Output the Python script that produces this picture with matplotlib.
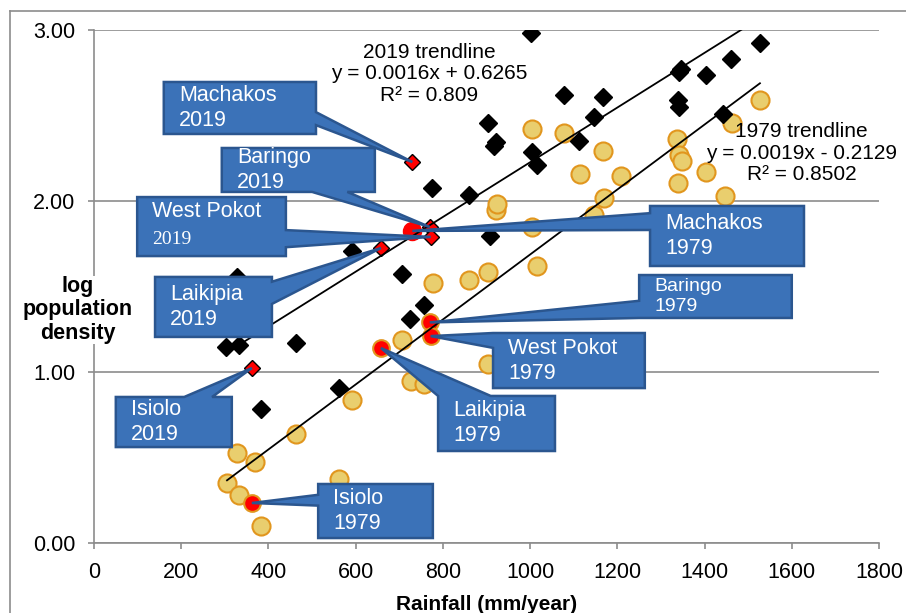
import matplotlib
matplotlib.use("Agg")
import matplotlib.pyplot as plt
import numpy as np
from matplotlib.patches import Polygon
from matplotlib.lines import Line2D

plt.rcParams["font.family"] = ["Liberation Sans", "DejaVu Sans"]

# ── data ──
rain_2019 = [303, 328, 333, 383, 463, 562, 591, 706, 725, 756, 775, 860, 903, 908,
             918, 922, 1002, 1004, 1016, 1078, 1112, 1147, 1167, 1339, 1341, 1341,
             1346, 1403, 1442, 1461, 1527]
dens_2019 = [1.146, 1.556, 1.158, 0.784, 1.17, 0.906, 1.708, 1.573, 1.31, 1.39, 2.076,
             2.035, 2.456, 1.795, 2.32, 2.345, 2.98, 2.287, 2.21, 2.62, 2.35, 2.49,
             2.61, 2.59, 2.55, 2.755, 2.77, 2.737, 2.51, 2.83, 2.924]

rain_1979 = [305, 328, 333, 369, 384, 463, 562, 592, 706, 727, 757, 777, 860, 903,
             904, 922, 924, 1004, 1004, 1016, 1078, 1114, 1147, 1167, 1169, 1208,
             1337, 1341, 1348, 1339, 1403, 1447, 1463, 1527]
dens_1979 = [0.351, 0.527, 0.281, 0.472, 0.10, 0.637, 0.374, 0.835, 1.187, 0.947, 0.93,
             1.52, 1.54, 1.585, 1.047, 1.95, 1.98, 1.85, 2.42, 1.62, 2.40, 2.16, 1.92,
             2.29, 2.02, 2.146, 2.36, 2.27, 2.234, 2.105, 2.17, 2.03, 2.456, 2.59]

counties = ["Machakos", "Baringo", "West Pokot", "Laikipia", "Isiolo"]
county_rain = [730, 770, 772, 658, 362]
county_1979 = [1.825, 1.29, 1.21, 1.14, 0.234]
county_2019 = [2.228, 1.848, 1.79, 1.725, 1.023]

trend_2019 = (0.0016, 0.6265, 0.809)
trend_1979 = (0.0019, -0.2129, 0.8502)

BLUE = "#3b72b8"
BLUE_EDGE = "#2b568f"

fig = plt.figure(figsize=(9.06, 6.13), dpi=100)
ax = fig.add_axes([94 / 906, 1 - 543 / 613, (879 - 94) / 906, (543 - 30) / 613])

# outer chart border
fig.add_artist(Line2D([10 / 906, 10 / 906], [0, 1 - 11 / 613], color="#8c8c8c", lw=1.2))
fig.add_artist(Line2D([10 / 906, 1], [1 - 11 / 613, 1 - 11 / 613], color="#8c8c8c", lw=1.2))

# points
ax.plot(rain_1979, dens_1979, "o", ms=13, mfc="#e9ce6e", mec="#e1961e", mew=1.5, zorder=3)
ax.plot(rain_2019, dens_2019, "D", ms=9.5, mfc="black", mec="black", zorder=3)
ax.plot(county_rain[1:], county_1979[1:], "o", ms=12, mfc="red", mec="#e1961e", mew=1.5, zorder=3)
ax.plot(county_rain[:1], county_1979[:1], "o", ms=13, mfc="red", mec="red", zorder=3)
ax.plot(county_rain, county_2019, "D", ms=8.5, mfc="red", mec="black", mew=1, zorder=3)

# trendlines
for (m, c, r2), rx, rc in [(trend_2019, rain_2019, county_rain), (trend_1979, rain_1979, county_rain)]:
    allx = np.array(list(rx) + list(rc))
    xs = np.array([allx.min(), allx.max()])
    ax.plot(xs, m * xs + c, color="black", lw=1.3, zorder=4)

ax.text(768, 2.743, "2019 trendline\ny = 0.0016x + 0.6265\nR² = 0.809",
        ha="center", va="center", fontsize=15, linespacing=1.15, zorder=6)
ax.text(1623, 2.28, "1979 trendline\ny = 0.0019x - 0.2129\nR² = 0.8502",
        ha="center", va="center", fontsize=15, linespacing=1.15, zorder=6, clip_on=False)

# callouts: label, box (x0, x1, y0, y1), wedge side, base fractions, tip
callouts = [
    ("Machakos\n2019", (160, 509, 2.392, 2.696), "right", 0.58, 0.83, (county_rain[0], county_2019[0]), 15.5),
    ("Baringo\n2019", (293, 644, 2.053, 2.31), "bottom", 0.59, 0.82, (county_rain[1], county_2019[1]), 15.5),
    (None, (99, 440, 1.678, 2.023), "right", 0.56, 0.85, (county_rain[2], county_2019[2]), 15.5),
    ("Laikipia\n2019", (140, 408, 1.205, 1.556), "right", 0.08, 0.45, (county_rain[3], county_2019[3]), 15.5),
    ("Isiolo\n2019", (50, 316, 0.561, 0.854), "top", 0.59, 0.83, (county_rain[4], county_2019[4]), 15.5),
    ("Machakos\n1979", (1275, 1628, 1.62, 1.971), "left", 0.12, 0.40, (county_rain[0], county_1979[0]), 15.5),
    ("Baringo\n1979", (1250, 1600, 1.316, 1.567), "left", 0.6, 1.0, (county_rain[1], county_1979[1]), 14),
    ("West Pokot\n1979", (915, 1263, 0.906, 1.228), "left", 0.0, 0.27, (county_rain[2], county_1979[2]), 15.5),
    ("Laikipia\n1979", (789, 1057, 0.538, 0.86), "top", 0.0, 0.45, (county_rain[3], county_1979[3]), 15.5),
    ("Isiolo\n1979", (514, 777, 0.029, 0.345), "left", 0.2, 0.4, (county_rain[4], county_1979[4]), 15.5),
]


def callout_poly(box, side, f1, f2, tip):
    x0, x1, y0, y1 = box
    w, h = x1 - x0, y1 - y0
    pts = [(x0, y1)]
    if side == "top":
        pts += [(x0 + f1 * w, y1), tip, (x0 + f2 * w, y1)]
    pts.append((x1, y1))
    if side == "right":
        pts += [(x1, y1 - f1 * h), tip, (x1, y1 - f2 * h)]
    pts.append((x1, y0))
    if side == "bottom":
        pts += [(x0 + f2 * w, y0), tip, (x0 + f1 * w, y0)]
    pts.append((x0, y0))
    if side == "left":
        pts += [(x0, y1 - f2 * h), tip, (x0, y1 - f1 * h)]
    return pts


for label, box, side, f1, f2, tip, fs in callouts:
    poly = Polygon(callout_poly(box, side, f1, f2, tip), closed=True,
                   facecolor=BLUE, edgecolor=BLUE_EDGE, lw=1.8, zorder=5, clip_on=False)
    ax.add_patch(poly)
    x0, x1, y0, y1 = box
    if label is None:
        ax.annotate("West Pokot", (x0, y1 - 0.25 * (y1 - y0)), xytext=(11, 0),
                    textcoords="offset points", ha="left", va="center",
                    color="white", fontsize=15.5, zorder=6)
        ax.annotate("2019", (x0, y1 - 0.72 * (y1 - y0)), xytext=(11, 0),
                    textcoords="offset points", ha="left", va="center",
                    color="white", fontsize=14, family="Liberation Serif", zorder=6)
    else:
        ax.annotate(label, (x0, (y0 + y1) / 2), xytext=(11, 0), textcoords="offset points",
                    ha="left", va="center", color="white", fontsize=fs,
                    linespacing=1.25, zorder=6)

# axes styling
ax.set_xlim(0, 1800)
ax.set_ylim(0, 3)
ax.set_xticks(np.arange(0, 1801, 200))
ax.set_yticks([0, 1, 2, 3])
ax.set_yticklabels(["0.00", "1.00", "2.00", "3.00"])
ax.tick_params(labelsize=15.5, length=4.5, width=1.2, color="#8c8c8c", pad=9)
for s in ["top", "right"]:
    ax.spines[s].set_visible(False)
for s in ["left", "bottom"]:
    ax.spines[s].set_color("#8c8c8c")
    ax.spines[s].set_linewidth(1.2)
ax.grid(True, axis="y", color="#8c8c8c", lw=1.2, zorder=0)
ax.set_axisbelow(True)

ax.set_xlabel("Rainfall (mm/year)", fontsize=15, fontweight="bold", labelpad=9)
fig.text(78 / 906, 1 - 310 / 613, "log\npopulation\ndensity", ha="center", va="center",
         fontsize=15.5, fontweight="bold", linespacing=1.15,
         bbox=dict(facecolor="white", edgecolor="none", pad=0))

fig.savefig("out.png", dpi=100)
